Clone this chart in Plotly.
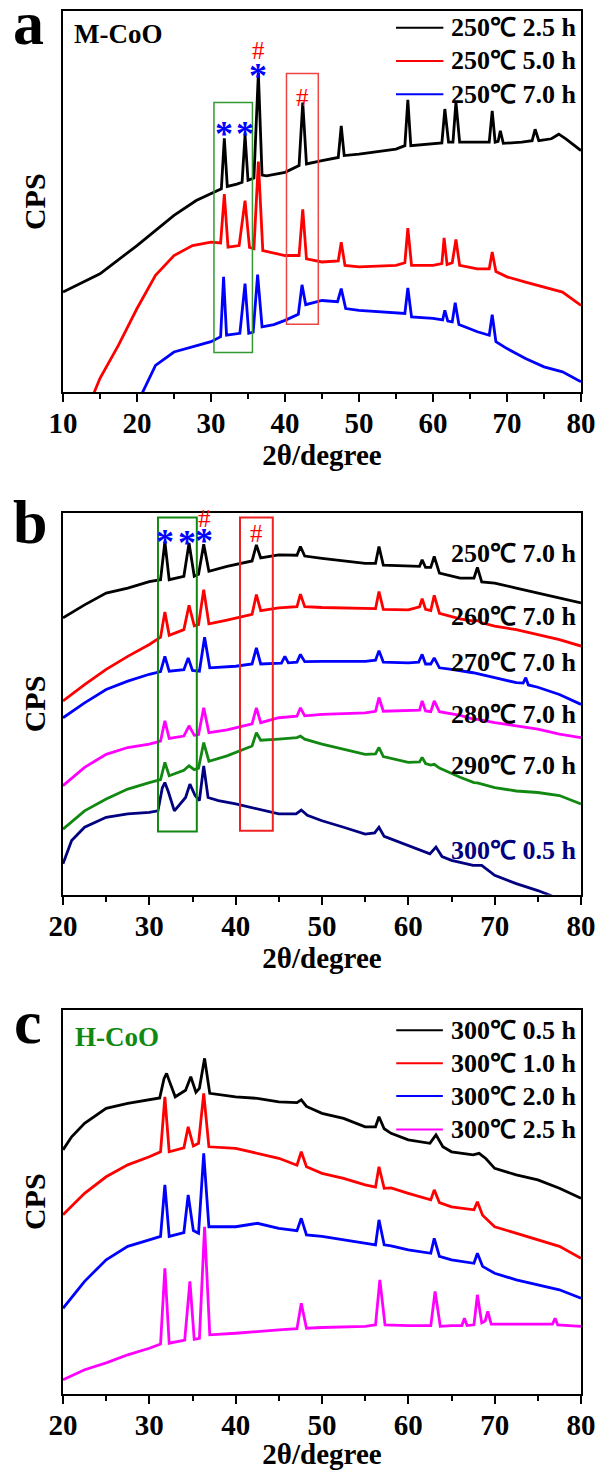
import plotly.graph_objects as go
from plotly.subplots import make_subplots

# ---- panel a : M-CoO, 250 C, different times ----
a_x_25h = [10, 15, 20, 25, 28, 30, 31.4, 31.8, 32.2, 33.5, 34.2, 34.6, 35.0, 35.8, 36.4, 36.9, 37.5, 40,
           41.9, 42.4, 42.9, 45, 47.2, 47.6, 48.0, 50, 55, 56.2, 56.6, 57.0, 60, 61.2, 61.6, 62.1, 62.7,
           63.1, 63.6, 66, 67.6, 68.0, 68.4, 68.8, 69.1, 69.5, 72, 73.4, 73.8, 74.3, 76, 77, 78, 80]
a_y_25h = [26.3, 31.1, 38.5, 46.4, 50.3, 52.0, 53.4, 66.6, 54.0, 54.6, 55.1, 67.5, 55.6, 56.2, 83.7, 57.0,
           56.8, 57.7, 59.5, 76.0, 59.9, 60.8, 61.6, 69.9, 62.1, 62.5, 63.8, 64.7, 76.7, 64.7, 65.1, 65.4,
           74.3, 65.6, 65.6, 76.2, 65.6, 65.6, 65.6, 73.8, 65.6, 65.8, 68.6, 65.3, 65.6, 66.0, 69.0, 66.0,
           66.5, 67.7, 66.4, 63.4]

a_x_50h = [14, 15, 17.5, 20, 22.5, 25, 27.5, 30, 31.3, 31.8, 32.3, 33.8, 34.6, 35.2, 35.8, 36.4, 37.0, 40,
           41.9, 42.4, 42.9, 45, 47.2, 47.6, 48.1, 50, 55, 56.2, 56.6, 57.1, 60, 61.2, 61.5, 61.9, 62.6,
           63.1, 63.6, 66, 67.6, 68.0, 68.5, 70, 72.5, 75, 77.5, 80]
a_y_50h = [-1, 3.7, 12.4, 22.0, 30.7, 35.9, 38.5, 39.4, 39.2, 52.0, 38.1, 38.5, 50.3, 38.0, 37.7, 60.5,
           37.2, 35.9, 35.9, 48.0, 35.0, 34.2, 34.5, 39.4, 33.3, 32.9, 33.3, 34.0, 43.1, 33.3, 33.3, 33.8,
           40.5, 33.5, 34.0, 40.1, 33.3, 32.4, 32.4, 36.8, 31.7, 30.3, 28.9, 27.6, 26.3, 22.8]

a_x_70h = [20.5, 22.5, 25, 27.5, 30, 31.3, 31.7, 32.1, 33.9, 34.6, 35.1, 35.7, 36.3, 36.9, 38.5, 40,
           41.8, 42.3, 42.8, 45, 47.1, 47.6, 48.2, 50, 52.5, 55, 56.2, 56.6, 57.1, 60, 61.3, 61.6, 62.0,
           62.6, 63.0, 63.5, 66, 67.6, 68.0, 68.5, 70, 72.5, 75, 77.5, 80]
a_y_70h = [-1, 7.1, 10.6, 11.9, 13.3, 14.6, 30.3, 15.0, 15.5, 28.5, 15.5, 15.8, 30.9, 17.2, 17.8, 18.9,
           20.5, 28.2, 23.0, 24.1, 23.8, 27.2, 22.0, 21.5, 21.1, 20.7, 20.7, 27.4, 19.8, 19.4, 19.0, 21.5,
           18.7, 18.5, 23.5, 17.8, 15.9, 15.0, 20.4, 13.3, 11.5, 8.9, 6.7, 5.4, 2.8]

a_names = ["250℃ 2.5 h", "250℃ 5.0 h", "250℃ 7.0 h"]
a_colors = ["#000000", "#ff0000", "#0000ff"]

# ---- panel b : 7.0 h at different temperatures ----
b_x = [20, 22.5, 25, 27.5, 30, 31.3, 31.8, 32.3, 34.0, 34.6, 35.2, 35.7, 36.3, 36.9, 39, 41.9, 42.4, 42.9,
       45, 47.1, 47.5, 48.0, 50, 55, 56.2, 56.6, 57.1, 60, 61.3, 61.6, 62.0, 62.6, 63.0, 63.6, 66, 67.6,
       68.0, 68.5, 70, 72.5, 75, 77.5, 80]
b_y_250 = [72.6, 76.0, 79.1, 80.4, 82.1, 82.6, 92.6, 82.6, 83.5, 92.2, 83.5, 84.0, 91.9, 84.8, 86.1, 87.5,
           91.7, 88.3, 89.1, 89.0, 91.3, 88.8, 88.2, 86.9, 86.9, 91.3, 86.4, 86.1, 86.1, 87.8, 85.8, 85.8,
           88.7, 84.3, 83.0, 83.0, 85.8, 82.0, 81.7, 80.4, 79.1, 77.8, 76.5]
b_y_260 = [50.8, 55.1, 59.1, 62.5, 65.6, 67.5, 74.1, 68.0, 69.5, 75.9, 70.5, 70.8, 80.0, 71.0, 72.0, 73.5,
           78.7, 74.5, 75.2, 75.5, 78.8, 75.5, 75.3, 75.0, 75.0, 79.5, 74.8, 74.7, 75.5, 77.6, 74.8, 74.5,
           78.5, 73.8, 72.3, 71.7, 71.9, 71.3, 70.4, 69.5, 68.2, 66.9, 65.2]
b_y_280 = [28.6, 33.4, 36.8, 38.6, 39.5, 40.3, 45.6, 41.0, 41.6, 44.3, 41.8, 42.0, 49.0, 42.5, 43.2, 44.8,
           49.0, 45.1, 46.4, 46.8, 49.0, 46.9, 47.3, 47.7, 48.1, 51.7, 48.1, 48.2, 48.4, 50.8, 48.2, 48.0,
           50.8, 48.0, 47.0, 46.0, 46.0, 45.8, 45.1, 44.3, 43.4, 42.1, 41.2]
b_y_290 = [17.2, 22.0, 25.1, 27.7, 29.4, 30.2, 34.7, 31.2, 32.6, 33.8, 32.8, 33.2, 39.9, 35.0, 36.4, 39.0,
           42.5, 40.5, 40.8, 41.2, 41.6, 40.8, 39.5, 36.8, 36.9, 38.6, 36.2, 34.7, 34.8, 36.0, 34.4, 34.0,
           34.2, 33.2, 30.8, 29.4, 29.3, 29.0, 28.1, 27.2, 26.8, 26.0, 23.8]

b_x_270 = [20, 22.5, 25, 27.5, 30, 31.3, 31.8, 32.3, 34.0, 34.5, 35.0, 35.8, 36.4, 37.0, 40, 41.9, 42.4,
           42.9, 45.3, 45.7, 46.1, 47.1, 47.5, 48.0, 50, 55, 56.2, 56.6, 57.1, 60, 61.2, 61.6, 62.0, 62.6,
           63.0, 63.6, 65, 67.5, 70, 72.5, 73.3, 73.6, 73.9, 75, 77.5, 80]
b_y_270 = [46.4, 50.3, 53.8, 56.0, 57.8, 58.5, 62.5, 58.6, 59.0, 62.1, 58.8, 58.6, 67.5, 59.5, 59.9, 60.5,
           64.7, 60.5, 60.7, 62.5, 60.8, 61.0, 63.0, 61.1, 61.2, 61.2, 61.5, 64.0, 61.0, 60.8, 61.0, 63.0,
           60.5, 60.5, 62.1, 59.5, 59.1, 58.2, 56.9, 55.6, 55.5, 56.9, 55.0, 54.4, 52.5, 49.9]

b_x_300 = [20, 21, 22.5, 25, 27.5, 30, 31.0, 31.5, 31.8, 32.2, 32.9, 34.2, 34.7, 35.3, 35.8, 36.3, 36.8,
           38, 40, 42.5, 45, 47.0, 47.6, 48.3, 50, 52.5, 55, 56.1, 56.6, 57.2, 60, 62.5, 63.2, 63.9, 65,
           67.5, 68.5, 70, 72.5, 75, 76.5, 78]
b_y_300 = [8.1, 14.2, 17.7, 20.3, 21.2, 21.6, 22.0, 28.0, 29.4, 27.0, 22.0, 25.5, 29.0, 26.0, 24.7, 33.8,
           25.5, 24.7, 23.8, 22.5, 21.2, 21.2, 22.2, 20.8, 19.4, 17.7, 15.9, 16.2, 17.7, 15.3, 12.9, 10.7,
           12.5, 10.0, 9.0, 7.7, 7.7, 5.1, 2.9, 1.1, -0.2, -2]

b_names = ["250℃ 7.0 h", "260℃ 7.0 h", "270℃ 7.0 h", "280℃ 7.0 h", "290℃ 7.0 h", "300℃ 0.5 h"]
b_colors = ["#000000", "#ff0000", "#0000ff", "#ff00ff", "#118811", "#000080"]
b_label_y = [89.5, 73.0, 60.8, 47.3, 33.8, 11.6]
b_label_colors = ["#000000", "#000000", "#000000", "#000000", "#000000", "#000080"]

# ---- panel c : H-CoO, 300 C, different times ----
c_x_05h = [20, 21, 22.5, 25, 27.5, 30, 31.2, 31.7, 32.0, 32.3, 33.0, 34.2, 34.8, 35.4, 35.8, 36.4, 37.0,
           40, 42.5, 45, 47.1, 47.6, 48.2, 50, 52.5, 55, 56.2, 56.6, 57.2, 58, 60, 62.5, 63.2, 64, 65,
           67.5, 68.2, 69, 70, 72.5, 75, 77.5, 80]
c_y_05h = [63.5, 66.9, 70.4, 74.3, 75.6, 76.5, 77.0, 82.0, 83.4, 81.5, 77.3, 79.0, 82.5, 78.5, 79.5, 87.3,
           78.2, 77.3, 76.9, 76.0, 75.8, 76.5, 74.8, 73.0, 71.7, 69.5, 69.5, 72.1, 69.0, 67.8, 66.1, 65.2,
           67.4, 64.3, 63.0, 62.2, 62.6, 61.2, 58.7, 57.0, 55.7, 53.5, 50.9]

c_x = [20, 22.5, 25, 27.5, 30, 31.3, 31.8, 32.3, 34.0, 34.5, 35.1, 35.7, 36.3, 36.9, 40, 42.5, 45, 47.1,
       47.6, 48.2, 50, 52.5, 55, 56.2, 56.6, 57.2, 58, 60, 62.6, 63.0, 63.6, 65, 67.6, 68.0, 68.6, 70,
       72.5, 75, 77.5, 80]
c_y_10h = [46.6, 52.2, 56.5, 59.6, 61.7, 63.0, 77.3, 63.0, 64.0, 69.5, 64.5, 65.2, 78.2, 64.3, 63.9, 62.6,
           61.3, 59.5, 63.0, 59.1, 57.4, 56.1, 54.4, 53.8, 59.1, 53.5, 53.6, 52.2, 50.5, 53.1, 49.8, 48.7,
           47.9, 50.0, 46.5, 43.5, 41.8, 40.1, 38.4, 35.3]
c_y_20h = [22.3, 29.3, 34.9, 38.4, 40.1, 41.0, 54.4, 41.0, 42.0, 51.8, 42.5, 41.8, 62.6, 43.5, 43.5, 44.4,
           43.1, 42.5, 45.7, 41.4, 41.0, 40.1, 39.2, 38.8, 45.3, 38.8, 38.5, 37.5, 36.6, 40.5, 35.8, 34.9,
           34.0, 36.6, 33.2, 31.4, 29.7, 28.4, 27.1, 24.9]

c_x_25h = [20, 22.5, 25, 27.5, 30, 31.3, 31.8, 32.3, 34.1, 34.7, 35.2, 35.8, 36.4, 37.0, 40, 42.5, 45,
           47.1, 47.6, 48.2, 50, 55, 56.2, 56.7, 57.3, 60, 62.6, 63.1, 63.7, 65, 66.2, 66.5, 66.8, 67.6,
           68.0, 68.5, 68.9, 69.2, 69.6, 72.5, 76.7, 77.0, 77.3, 80]
c_y_25h = [3.7, 6.3, 8.1, 10.2, 11.9, 13.0, 32.7, 13.2, 14.0, 29.3, 14.2, 14.5, 43.5, 15.4, 15.8, 16.3,
           16.7, 17.0, 23.6, 17.1, 17.3, 17.6, 18.0, 29.7, 18.0, 17.8, 17.8, 26.7, 17.6, 17.8, 17.8, 19.7,
           17.8, 18.0, 25.8, 18.5, 19.0, 21.5, 18.2, 18.2, 18.2, 19.7, 18.0, 17.6]

c_names = ["300℃ 0.5 h", "300℃ 1.0 h", "300℃ 2.0 h", "300℃ 2.5 h"]
c_colors = ["#000000", "#ff0000", "#0000ff", "#ff00ff"]

FONT = "Liberation Serif"
LW = 2.8

fig = make_subplots(rows=3, cols=1)

for xs, ys, name, col in zip([a_x_25h, a_x_50h, a_x_70h], [a_y_25h, a_y_50h, a_y_70h], a_names, a_colors):
    fig.add_trace(go.Scatter(x=xs, y=ys, mode="lines", name=name, line=dict(color=col, width=LW)), row=1, col=1)

b_xs = [b_x, b_x, b_x_270, b_x, b_x, b_x_300]
b_ys = [b_y_250, b_y_260, b_y_270, b_y_280, b_y_290, b_y_300]
for xs, ys, name, col in zip(b_xs, b_ys, b_names, b_colors):
    fig.add_trace(go.Scatter(x=xs, y=ys, mode="lines", name=name, line=dict(color=col, width=LW)), row=2, col=1)

c_xs = [c_x_05h, c_x, c_x, c_x_25h]
c_ys = [c_y_05h, c_y_10h, c_y_20h, c_y_25h]
for xs, ys, name, col in zip(c_xs, c_ys, c_names, c_colors):
    fig.add_trace(go.Scatter(x=xs, y=ys, mode="lines", name=name, line=dict(color=col, width=LW)), row=3, col=1)

fig.update_traces(showlegend=False)

tickfont = dict(family=FONT, size=29, color="black", weight="bold")
for i, rng, stand in zip([1, 2, 3], [[10, 80], [20, 80], [20, 80]], [5, 0, 0]):
    fig.update_xaxes(range=rng, dtick=10, ticks="outside", ticklen=8, tickwidth=2, tickcolor="black",
                     minor=dict(dtick=5, ticks="outside", ticklen=5, tickwidth=2, tickcolor="black"),
                     showline=True, linewidth=2, linecolor="black", mirror=True, showgrid=False,
                     zeroline=False, tickfont=tickfont, ticklabelstandoff=-4,
                     title=dict(text="2θ/degree", font=tickfont, standoff=stand), row=i, col=1)
    fig.update_yaxes(range=[0, 100], showticklabels=False, ticks="", showline=True, linewidth=2,
                     linecolor="black", mirror=True, showgrid=False, zeroline=False,
                     title=dict(text="CPS", font=dict(family=FONT, size=30, color="black", weight="bold"),
                                standoff=6), row=i, col=1)

fig.update_layout(
    width=605, height=1470,
    margin=dict(l=63, r=17, t=9, b=76),
    plot_bgcolor="white", paper_bgcolor="white",
    yaxis=dict(domain=[0.7242, 1.0]),
    yaxis2=dict(domain=[0.3610, 0.6368]),
    yaxis3=dict(domain=[0.0, 0.278]),
)

shapes = []
ann = []

# boxes around the marked peaks
shapes.append(dict(type="rect", xref="x", yref="y", x0=30.4, x1=35.6, y0=10.5, y1=76.0,
                   line=dict(color="#339933", width=1.5)))
shapes.append(dict(type="rect", xref="x", yref="y", x0=40.2, x1=44.5, y0=17.9, y1=83.6,
                   line=dict(color="#ee4444", width=1.5)))
shapes.append(dict(type="rect", xref="x2", yref="y2", x0=31.0, x1=35.5, y0=16.6, y1=98.9,
                   line=dict(color="#118811", width=2)))
shapes.append(dict(type="rect", xref="x2", yref="y2", x0=40.5, x1=44.3, y0=16.8, y1=98.9,
                   line=dict(color="#ee2222", width=2)))

# legend of panel a
for name, col, yy in zip(a_names, a_colors, [95.6, 86.9, 78.2]):
    shapes.append(dict(type="line", xref="x", yref="y", x0=55, x1=61.4, y0=yy, y1=yy,
                       line=dict(color=col, width=2)))
    ann.append(dict(x=62.2, y=yy, xref="x", yref="y", text=name, showarrow=False, xanchor="left",
                    font=dict(family=FONT, size=26, color="black", weight="bold")))

# legend of panel c
for name, col, yy in zip(c_names, c_colors, [94.6, 86.0, 77.5, 68.8]):
    shapes.append(dict(type="line", xref="x3", yref="y3", x0=58.6, x1=64.0, y0=yy, y1=yy,
                       line=dict(color=col, width=2)))
    ann.append(dict(x=64.7, y=yy, xref="x3", yref="y3", text=name, showarrow=False, xanchor="left",
                    font=dict(family=FONT, size=26, color="black", weight="bold")))

# curve labels of panel b
for name, col, yy in zip(b_names, b_label_colors, b_label_y):
    ann.append(dict(x=79.8, y=yy, xref="x2", yref="y2", text=name, showarrow=False, xanchor="right",
                    font=dict(family=FONT, size=26, color=col, weight="bold")))

star = dict(family=FONT, size=36, color="#0000ff", weight="bold")
hashf = dict(family=FONT, size=25, color="#ff0000")
for xx, yy in [(31.7, 69.9), (34.6, 69.9), (36.4, 85.0)]:
    ann.append(dict(x=xx, y=yy, xref="x", yref="y", text="*", showarrow=False, font=star, yshift=-8))
for xx, yy in [(36.4, 89.6), (42.4, 77.2)]:
    ann.append(dict(x=xx, y=yy, xref="x", yref="y", text="#", showarrow=False, font=hashf))
for xx, yy in [(31.8, 94.5), (34.4, 94.3), (36.3, 94.8)]:
    ann.append(dict(x=xx, y=yy, xref="x2", yref="y2", text="*", showarrow=False, font=star, yshift=-8))
for xx, yy in [(36.4, 98.6), (42.4, 94.8)]:
    ann.append(dict(x=xx, y=yy, xref="x2", yref="y2", text="#", showarrow=False, font=hashf))

ann.append(dict(x=11.2, y=93.9, xref="x", yref="y", text="M-CoO", showarrow=False, xanchor="left",
                font=dict(family=FONT, size=27, color="black", weight="bold")))
ann.append(dict(x=21.2, y=92.9, xref="x3", yref="y3", text="H-CoO", showarrow=False, xanchor="left",
                font=dict(family=FONT, size=27, color="#118811", weight="bold")))

# panel letters
for letter, px, py in [("a", -0.0667, 0.9913), ("b", -0.063, 0.6303), ("c", -0.0667, 0.2693)]:
    ann.append(dict(x=px, y=py, xref="paper", yref="paper", text=letter, showarrow=False,
                    xanchor="center", yanchor="middle",
                    font=dict(family=FONT, size=62, color="black", weight="bold")))

fig.update_layout(shapes=shapes, annotations=ann)
fig.write_html("out.html", config={"displayModeBar": False},
               post_script="document.body.style.margin='0px';")
